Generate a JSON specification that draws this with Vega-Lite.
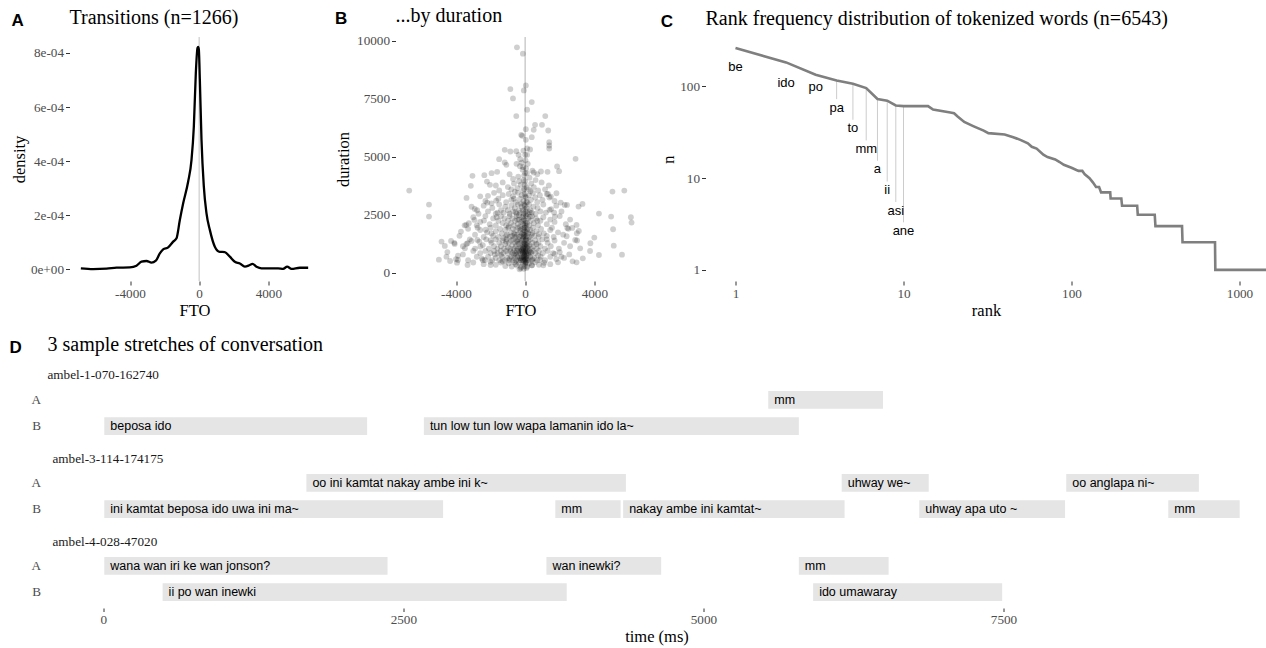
{
  "$schema": "https://vega.github.io/schema/vega-lite/v6.json",
  "padding": {"left": 8.5, "top": 5, "right": 0, "bottom": 0},
  "columns": 1,
  "align": "none",
  "spacing": 15,
  "config": {
    "view": {"stroke": null},
    "font": "Liberation Serif",
    "axis": {
      "labelFont": "Liberation Serif", "labelFontSize": 13.2, "labelColor": "#4d4d4d",
      "titleFont": "Liberation Serif", "titleFontSize": 16.5, "titleFontWeight": "normal", "titleColor": "black",
      "tickColor": "#333333", "tickSize": 4, "tickWidth": 1,
      "domain": false, "grid": false, "labelPadding": 2, "titlePadding": 3
    },
    "title": {
      "anchor": "start", "frame": "group", "font": "Liberation Serif", "fontSize": 20,
      "fontWeight": "normal", "color": "black", "offset": 8
    }
  },
  "datasets": {
    "density": [
      {"fto": -6843, "density": 0.0000037}, {"fto": -6130, "density": 0.0000012}, {"fto": -5359, "density": 0.0000025},
      {"fto": -4780, "density": 0.0000062}, {"fto": -4010, "density": 0.0000074}, {"fto": -3624, "density": 0.0000136},
      {"fto": -3335, "density": 0.0000284}, {"fto": -3046, "density": 0.0000309}, {"fto": -2757, "density": 0.0000247},
      {"fto": -2506, "density": 0.000032}, {"fto": -2275, "density": 0.0000593}, {"fto": -2082, "density": 0.0000741},
      {"fto": -1793, "density": 0.0000815}, {"fto": -1504, "density": 0.0001025}, {"fto": -1311, "density": 0.0001148},
      {"fto": -1118, "density": 0.0001827}, {"fto": -925, "density": 0.0002444}, {"fto": -636, "density": 0.0003247},
      {"fto": -443, "density": 0.0004049}, {"fto": -308, "density": 0.0005284}, {"fto": -193, "density": 0.000726},
      {"fto": -96, "density": 0.000819}, {"fto": -58, "density": 0.000822}, {"fto": -19, "density": 0.000812},
      {"fto": 39, "density": 0.000701}, {"fto": 135, "density": 0.000479}, {"fto": 270, "density": 0.000306},
      {"fto": 424, "density": 0.000207}, {"fto": 617, "density": 0.000146}, {"fto": 906, "density": 0.000084},
      {"fto": 1195, "density": 0.000065}, {"fto": 1484, "density": 0.000064}, {"fto": 1773, "density": 0.000047},
      {"fto": 2063, "density": 0.000028}, {"fto": 2352, "density": 0.000022}, {"fto": 2641, "density": 0.00001},
      {"fto": 2930, "density": 0.000016}, {"fto": 3084, "density": 0.00002}, {"fto": 3316, "density": 0.00001},
      {"fto": 3605, "density": 0.000004}, {"fto": 4087, "density": 0.000004}, {"fto": 4569, "density": 0.000004},
      {"fto": 4858, "density": 0.000002}, {"fto": 5089, "density": 0.00001}, {"fto": 5340, "density": 0.000002},
      {"fto": 5822, "density": 0.000006}, {"fto": 6304, "density": 0.000006}
    ],
    "transitions": [
      {"fto": -476, "dur": 9714}, {"fto": -133, "dur": 9441}, {"fto": 38, "dur": 8076}, {"fto": -857, "dur": 7918},
      {"fto": -76, "dur": 7861}, {"fto": -705, "dur": 7515}, {"fto": 381, "dur": 7357}, {"fto": 114, "dur": 7027},
      {"fto": -514, "dur": 6754}, {"fto": 1162, "dur": 6754}, {"fto": 572, "dur": 6380}, {"fto": 972, "dur": 6380},
      {"fto": 38, "dur": 6193}, {"fto": 495, "dur": 6165}, {"fto": 1334, "dur": 6136}, {"fto": -229, "dur": 5949},
      {"fto": -171, "dur": 5906}, {"fto": 381, "dur": 5849}, {"fto": 38, "dur": 5734}, {"fto": 1391, "dur": 5633},
      {"fto": 1391, "dur": 5489}, {"fto": 1391, "dur": 5360}, {"fto": 114, "dur": 5360}, {"fto": -1181, "dur": 5303},
      {"fto": -857, "dur": 5231}, {"fto": -514, "dur": 5245}, {"fto": -100, "dur": 5270}, {"fto": 286, "dur": 5317},
      {"fto": -381, "dur": 5087}, {"fto": 0, "dur": 5087}, {"fto": 114, "dur": 5087}, {"fto": 2915, "dur": 4915},
      {"fto": -1505, "dur": 4900}, {"fto": -1181, "dur": 4756}, {"fto": -1086, "dur": 4656}, {"fto": -286, "dur": 4900},
      {"fto": -114, "dur": 4555}, {"fto": 0, "dur": 4300}, {"fto": 1848, "dur": 4584}, {"fto": 1962, "dur": 4383},
      {"fto": 1295, "dur": 4354}, {"fto": 914, "dur": 4368}, {"fto": 495, "dur": 4325}, {"fto": -1619, "dur": 4354},
      {"fto": -1943, "dur": 4297}, {"fto": -2362, "dur": 4210}, {"fto": -3048, "dur": 4182}, {"fto": -2210, "dur": 3937},
      {"fto": -2038, "dur": 3794}, {"fto": -1696, "dur": 3765}, {"fto": -3143, "dur": 3751}, {"fto": -6706, "dur": 3549},
      {"fto": 5048, "dur": 3506}, {"fto": 5734, "dur": 3549}, {"fto": 1372, "dur": 3765}, {"fto": 1810, "dur": 3434},
      {"fto": 1320, "dur": 3400}, {"fto": 1486, "dur": 3291}, {"fto": -2153, "dur": 3320}, {"fto": -3391, "dur": 3233},
      {"fto": -1677, "dur": 3118}, {"fto": -2191, "dur": 3032}, {"fto": -5563, "dur": 2946}, {"fto": -5563, "dur": 2429},
      {"fto": -2915, "dur": 2759}, {"fto": -2781, "dur": 2702}, {"fto": 2057, "dur": 3032}, {"fto": 2286, "dur": 2932},
      {"fto": 2419, "dur": 2932}, {"fto": 3086, "dur": 2860}, {"fto": 3315, "dur": 2975}, {"fto": 4267, "dur": 2558},
      {"fto": 4972, "dur": 2429}, {"fto": 6115, "dur": 2400}, {"fto": 6153, "dur": 2170}, {"fto": 5086, "dur": 1882},
      {"fto": 1410, "dur": 2716}, {"fto": 1676, "dur": 2601}, {"fto": 1714, "dur": 2430}, {"fto": -3258, "dur": 2141},
      {"fto": -3410, "dur": 2069}, {"fto": -3715, "dur": 1782}, {"fto": -2934, "dur": 2285}, {"fto": 2438, "dur": 1940},
      {"fto": 2724, "dur": 1940}, {"fto": 2972, "dur": 2069}, {"fto": 2991, "dur": 1710}, {"fto": 3105, "dur": 1811},
      {"fto": 4000, "dur": 1523}, {"fto": 3772, "dur": 1279}, {"fto": 3753, "dur": 948}, {"fto": 4267, "dur": 776},
      {"fto": 5124, "dur": 1178}, {"fto": 5600, "dur": 790}, {"fto": 2895, "dur": 1423}, {"fto": 3181, "dur": 1063},
      {"fto": 2743, "dur": 503}, {"fto": 2972, "dur": 460}, {"fto": 3334, "dur": 632}, {"fto": -4838, "dur": 1351},
      {"fto": -4648, "dur": 1164}, {"fto": -4286, "dur": 1380}, {"fto": -4077, "dur": 1250}, {"fto": -4991, "dur": 575},
      {"fto": -4553, "dur": 704}, {"fto": -4343, "dur": 517}, {"fto": -3886, "dur": 747}, {"fto": -3886, "dur": 560},
      {"fto": -3943, "dur": 445}, {"fto": -3334, "dur": 345}, {"fto": -3486, "dur": 1063}, {"fto": -3330, "dur": 1280},
      {"fto": -3105, "dur": 1380}, {"fto": -2762, "dur": 1423}, {"fto": -2591, "dur": 1135}, {"fto": -2381, "dur": 2256},
      {"fto": -2286, "dur": 1860}, {"fto": -2324, "dur": 560}, {"fto": -2000, "dur": 345}, {"fto": -324, "dur": 158},
      {"fto": 400, "dur": 331}, {"fto": 1048, "dur": 331}, {"fto": 857, "dur": 560}, {"fto": 1714, "dur": 819},
      {"fto": 2095, "dur": 704},
      {"fto": -300, "dur": 4600}, {"fto": -150, "dur": 4450}, {"fto": 50, "dur": 4500}, {"fto": 100, "dur": 4300},
      {"fto": -60, "dur": 4200}, {"fto": -400, "dur": 4150}, {"fto": 250, "dur": 4100}, {"fto": -700, "dur": 4050},
      {"fto": 600, "dur": 4000}, {"fto": -900, "dur": 4250}, {"fto": 420, "dur": 4400}, {"fto": -200, "dur": 4750},
      {"fto": 20, "dur": 4850}, {"fto": 150, "dur": 4700}, {"fto": -500, "dur": 4700}, {"fto": 700, "dur": 4250},
      {"fto": -1300, "dur": 3900}, {"fto": -1000, "dur": 3700}, {"fto": -800, "dur": 3600}, {"fto": -650, "dur": 3850},
      {"fto": -450, "dur": 3650}, {"fto": -250, "dur": 3800}, {"fto": -120, "dur": 3550}, {"fto": 0, "dur": 3950},
      {"fto": 80, "dur": 3700}, {"fto": 200, "dur": 3600}, {"fto": 350, "dur": 3850}, {"fto": 500, "dur": 3700},
      {"fto": 750, "dur": 3550}, {"fto": 950, "dur": 3900}, {"fto": 1150, "dur": 3600}, {"fto": -1500, "dur": 3550},
      {"fto": -600, "dur": 3500}, {"fto": 300, "dur": 3520}, {"fto": -50, "dur": 3620}, {"fto": -350, "dur": 3950},
      {"fto": -1800, "dur": 3450}, {"fto": -1550, "dur": 3200}, {"fto": -1300, "dur": 3350}, {"fto": -1100, "dur": 3050},
      {"fto": -950, "dur": 3400}, {"fto": -800, "dur": 3150}, {"fto": -700, "dur": 3300}, {"fto": -550, "dur": 3050},
      {"fto": -420, "dur": 3450}, {"fto": -300, "dur": 3200}, {"fto": -200, "dur": 3350}, {"fto": -100, "dur": 3100},
      {"fto": -30, "dur": 3400}, {"fto": 40, "dur": 3250}, {"fto": 120, "dur": 3050}, {"fto": 220, "dur": 3350},
      {"fto": 330, "dur": 3150}, {"fto": 450, "dur": 3450}, {"fto": 580, "dur": 3250}, {"fto": 700, "dur": 3050},
      {"fto": 850, "dur": 3350}, {"fto": 1000, "dur": 3150}, {"fto": 1250, "dur": 3400}, {"fto": 1400, "dur": 3250},
      {"fto": -2300, "dur": 3100}, {"fto": -2600, "dur": 3300}, {"fto": -1950, "dur": 3000}, {"fto": 1700, "dur": 3100},
      {"fto": -650, "dur": 3200}, {"fto": 60, "dur": 3050},
      {"fto": -2400, "dur": 2900}, {"fto": -2150, "dur": 2650}, {"fto": -1900, "dur": 2800}, {"fto": -1700, "dur": 2550},
      {"fto": -1500, "dur": 2950}, {"fto": -1400, "dur": 2700}, {"fto": -1250, "dur": 2600}, {"fto": -1150, "dur": 2850},
      {"fto": -1000, "dur": 2700}, {"fto": -900, "dur": 2550}, {"fto": -800, "dur": 2900}, {"fto": -700, "dur": 2650},
      {"fto": -600, "dur": 2800}, {"fto": -500, "dur": 2550}, {"fto": -420, "dur": 2950}, {"fto": -350, "dur": 2700},
      {"fto": -280, "dur": 2600}, {"fto": -200, "dur": 2850}, {"fto": -140, "dur": 2700}, {"fto": -80, "dur": 2550},
      {"fto": -20, "dur": 2900}, {"fto": 30, "dur": 2650}, {"fto": 90, "dur": 2800}, {"fto": 150, "dur": 2550},
      {"fto": 220, "dur": 2950}, {"fto": 300, "dur": 2700}, {"fto": 380, "dur": 2600}, {"fto": 480, "dur": 2850},
      {"fto": 600, "dur": 2550}, {"fto": 720, "dur": 2800}, {"fto": 880, "dur": 2650}, {"fto": 1050, "dur": 2950},
      {"fto": 1200, "dur": 2600}, {"fto": 1500, "dur": 2750}, {"fto": 1800, "dur": 2900}, {"fto": 2100, "dur": 2650},
      {"fto": -2700, "dur": 2550}, {"fto": -3100, "dur": 2850}, {"fto": -1600, "dur": 2600}, {"fto": -550, "dur": 2620},
      {"fto": -250, "dur": 2980}, {"fto": 40, "dur": 2520}, {"fto": 260, "dur": 2620},
      {"fto": -3000, "dur": 2400}, {"fto": -2600, "dur": 2200}, {"fto": -2300, "dur": 2450}, {"fto": -2050, "dur": 2100},
      {"fto": -1850, "dur": 2350}, {"fto": -1700, "dur": 2050}, {"fto": -1550, "dur": 2250}, {"fto": -1400, "dur": 2450},
      {"fto": -1300, "dur": 2150}, {"fto": -1200, "dur": 2350}, {"fto": -1100, "dur": 2050}, {"fto": -1000, "dur": 2250},
      {"fto": -900, "dur": 2450}, {"fto": -820, "dur": 2150}, {"fto": -740, "dur": 2350}, {"fto": -660, "dur": 2050},
      {"fto": -580, "dur": 2250}, {"fto": -500, "dur": 2450}, {"fto": -430, "dur": 2100}, {"fto": -360, "dur": 2300},
      {"fto": -300, "dur": 2000}, {"fto": -240, "dur": 2200}, {"fto": -180, "dur": 2400}, {"fto": -120, "dur": 2100},
      {"fto": -70, "dur": 2300}, {"fto": -20, "dur": 2050}, {"fto": 20, "dur": 2250}, {"fto": 60, "dur": 2450},
      {"fto": 110, "dur": 2150}, {"fto": 170, "dur": 2350}, {"fto": 240, "dur": 2050}, {"fto": 320, "dur": 2250},
      {"fto": 400, "dur": 2450}, {"fto": 500, "dur": 2150}, {"fto": 620, "dur": 2350}, {"fto": 740, "dur": 2050},
      {"fto": 880, "dur": 2250}, {"fto": 1050, "dur": 2400}, {"fto": 1250, "dur": 2100}, {"fto": 1450, "dur": 2300},
      {"fto": 1700, "dur": 2200}, {"fto": 2000, "dur": 2450}, {"fto": 2350, "dur": 2100}, {"fto": 2600, "dur": 2300},
      {"fto": -3500, "dur": 2050}, {"fto": -2800, "dur": 2050}, {"fto": -1650, "dur": 2400}, {"fto": -950, "dur": 2000},
      {"fto": -450, "dur": 2300}, {"fto": -150, "dur": 2250}, {"fto": 80, "dur": 2050}, {"fto": 280, "dur": 2420},
      {"fto": 700, "dur": 2250}, {"fto": -350, "dur": 2480},
      {"fto": -3300, "dur": 1900}, {"fto": -2900, "dur": 1650}, {"fto": -2600, "dur": 1850}, {"fto": -2400, "dur": 1550},
      {"fto": -2200, "dur": 1750}, {"fto": -2000, "dur": 1950}, {"fto": -1850, "dur": 1600}, {"fto": -1700, "dur": 1800},
      {"fto": -1550, "dur": 1550}, {"fto": -1450, "dur": 1900}, {"fto": -1350, "dur": 1700}, {"fto": -1250, "dur": 1500},
      {"fto": -1150, "dur": 1850}, {"fto": -1050, "dur": 1650}, {"fto": -980, "dur": 1950}, {"fto": -900, "dur": 1550},
      {"fto": -830, "dur": 1750}, {"fto": -760, "dur": 1600}, {"fto": -700, "dur": 1900}, {"fto": -640, "dur": 1700},
      {"fto": -580, "dur": 1550}, {"fto": -520, "dur": 1850}, {"fto": -460, "dur": 1650}, {"fto": -400, "dur": 1950},
      {"fto": -350, "dur": 1550}, {"fto": -300, "dur": 1750}, {"fto": -250, "dur": 1600}, {"fto": -200, "dur": 1900},
      {"fto": -160, "dur": 1700}, {"fto": -120, "dur": 1550}, {"fto": -80, "dur": 1850}, {"fto": -40, "dur": 1650},
      {"fto": -10, "dur": 1950}, {"fto": 20, "dur": 1550}, {"fto": 50, "dur": 1750}, {"fto": 90, "dur": 1600},
      {"fto": 130, "dur": 1900}, {"fto": 180, "dur": 1700}, {"fto": 240, "dur": 1550}, {"fto": 300, "dur": 1850},
      {"fto": 370, "dur": 1650}, {"fto": 450, "dur": 1950}, {"fto": 540, "dur": 1600}, {"fto": 650, "dur": 1800},
      {"fto": 780, "dur": 1550}, {"fto": 920, "dur": 1900}, {"fto": 1080, "dur": 1700}, {"fto": 1250, "dur": 1600},
      {"fto": 1450, "dur": 1850}, {"fto": 1650, "dur": 1550}, {"fto": 1900, "dur": 1750}, {"fto": 2200, "dur": 1650},
      {"fto": 2500, "dur": 1900}, {"fto": -3800, "dur": 1600}, {"fto": -2750, "dur": 1950}, {"fto": -1950, "dur": 1700},
      {"fto": -1100, "dur": 1600}, {"fto": -600, "dur": 1650}, {"fto": -280, "dur": 1850}, {"fto": -60, "dur": 1580},
      {"fto": 110, "dur": 1820}, {"fto": 420, "dur": 1720}, {"fto": 800, "dur": 1680}, {"fto": 1550, "dur": 1950},
      {"fto": 2400, "dur": 1580},
      {"fto": -4100, "dur": 1300}, {"fto": -3600, "dur": 1150}, {"fto": -3200, "dur": 1450}, {"fto": -2900, "dur": 1050},
      {"fto": -2650, "dur": 1350}, {"fto": -2450, "dur": 1200}, {"fto": -2250, "dur": 1450}, {"fto": -2100, "dur": 1050},
      {"fto": -1950, "dur": 1300}, {"fto": -1800, "dur": 1150}, {"fto": -1700, "dur": 1450}, {"fto": -1600, "dur": 1050},
      {"fto": -1500, "dur": 1300}, {"fto": -1400, "dur": 1150}, {"fto": -1300, "dur": 1400}, {"fto": -1220, "dur": 1050},
      {"fto": -1150, "dur": 1250}, {"fto": -1080, "dur": 1450}, {"fto": -1000, "dur": 1100}, {"fto": -930, "dur": 1300},
      {"fto": -870, "dur": 1050}, {"fto": -810, "dur": 1400}, {"fto": -750, "dur": 1200}, {"fto": -690, "dur": 1450},
      {"fto": -640, "dur": 1050}, {"fto": -590, "dur": 1300}, {"fto": -540, "dur": 1150}, {"fto": -490, "dur": 1400},
      {"fto": -440, "dur": 1050}, {"fto": -400, "dur": 1250}, {"fto": -360, "dur": 1450}, {"fto": -320, "dur": 1100},
      {"fto": -280, "dur": 1300}, {"fto": -240, "dur": 1050}, {"fto": -200, "dur": 1400}, {"fto": -170, "dur": 1200},
      {"fto": -140, "dur": 1450}, {"fto": -110, "dur": 1050}, {"fto": -80, "dur": 1300}, {"fto": -50, "dur": 1150},
      {"fto": -25, "dur": 1400}, {"fto": 0, "dur": 1050}, {"fto": 25, "dur": 1250}, {"fto": 55, "dur": 1450},
      {"fto": 85, "dur": 1100}, {"fto": 120, "dur": 1300}, {"fto": 160, "dur": 1050}, {"fto": 200, "dur": 1400},
      {"fto": 250, "dur": 1200}, {"fto": 300, "dur": 1450}, {"fto": 360, "dur": 1050}, {"fto": 430, "dur": 1300},
      {"fto": 500, "dur": 1150}, {"fto": 580, "dur": 1400}, {"fto": 670, "dur": 1050}, {"fto": 770, "dur": 1300},
      {"fto": 880, "dur": 1150}, {"fto": 1000, "dur": 1450}, {"fto": 1150, "dur": 1050}, {"fto": 1300, "dur": 1300},
      {"fto": 1480, "dur": 1150}, {"fto": 1700, "dur": 1400}, {"fto": 1950, "dur": 1050}, {"fto": 2250, "dur": 1300},
      {"fto": 2600, "dur": 1150}, {"fto": 3000, "dur": 1400}, {"fto": -2000, "dur": 1400}, {"fto": -1100, "dur": 1350},
      {"fto": -450, "dur": 1350}, {"fto": -130, "dur": 1100}, {"fto": 180, "dur": 1150}, {"fto": 650, "dur": 1250},
      {"fto": 1250, "dur": 1450}, {"fto": -3400, "dur": 1250},
      {"fto": -4500, "dur": 900}, {"fto": -4000, "dur": 600}, {"fto": -3600, "dur": 800}, {"fto": -3300, "dur": 550},
      {"fto": -3000, "dur": 950}, {"fto": -2800, "dur": 700}, {"fto": -2600, "dur": 850}, {"fto": -2450, "dur": 550},
      {"fto": -2300, "dur": 950}, {"fto": -2150, "dur": 700}, {"fto": -2000, "dur": 850}, {"fto": -1900, "dur": 550},
      {"fto": -1800, "dur": 950}, {"fto": -1700, "dur": 650}, {"fto": -1600, "dur": 850}, {"fto": -1500, "dur": 550},
      {"fto": -1420, "dur": 950}, {"fto": -1340, "dur": 700}, {"fto": -1260, "dur": 850}, {"fto": -1180, "dur": 550},
      {"fto": -1110, "dur": 950}, {"fto": -1040, "dur": 650}, {"fto": -980, "dur": 850}, {"fto": -920, "dur": 550},
      {"fto": -860, "dur": 950}, {"fto": -800, "dur": 700}, {"fto": -750, "dur": 850}, {"fto": -700, "dur": 550},
      {"fto": -650, "dur": 950}, {"fto": -600, "dur": 650}, {"fto": -560, "dur": 850}, {"fto": -520, "dur": 550},
      {"fto": -480, "dur": 950}, {"fto": -440, "dur": 700}, {"fto": -400, "dur": 850}, {"fto": -360, "dur": 550},
      {"fto": -330, "dur": 950}, {"fto": -300, "dur": 650}, {"fto": -270, "dur": 850}, {"fto": -240, "dur": 550},
      {"fto": -210, "dur": 950}, {"fto": -180, "dur": 700}, {"fto": -150, "dur": 850}, {"fto": -120, "dur": 550},
      {"fto": -95, "dur": 950}, {"fto": -70, "dur": 650}, {"fto": -45, "dur": 850}, {"fto": -20, "dur": 550},
      {"fto": 5, "dur": 950}, {"fto": 30, "dur": 700}, {"fto": 55, "dur": 850}, {"fto": 80, "dur": 550},
      {"fto": 110, "dur": 950}, {"fto": 140, "dur": 650}, {"fto": 175, "dur": 850}, {"fto": 210, "dur": 550},
      {"fto": 250, "dur": 950}, {"fto": 290, "dur": 700}, {"fto": 340, "dur": 850}, {"fto": 390, "dur": 550},
      {"fto": 450, "dur": 950}, {"fto": 520, "dur": 650}, {"fto": 600, "dur": 850}, {"fto": 690, "dur": 550},
      {"fto": 790, "dur": 950}, {"fto": 900, "dur": 700}, {"fto": 1020, "dur": 850}, {"fto": 1150, "dur": 550},
      {"fto": 1300, "dur": 950}, {"fto": 1450, "dur": 700}, {"fto": 1620, "dur": 850}, {"fto": 1800, "dur": 600},
      {"fto": 2000, "dur": 900}, {"fto": 2250, "dur": 650}, {"fto": 2550, "dur": 800}, {"fto": -1400, "dur": 780},
      {"fto": -900, "dur": 620}, {"fto": -500, "dur": 780}, {"fto": -250, "dur": 620}, {"fto": -60, "dur": 760},
      {"fto": 60, "dur": 620}, {"fto": 200, "dur": 780}, {"fto": 430, "dur": 600}, {"fto": 750, "dur": 760},
      {"fto": -1750, "dur": 800}, {"fto": -2500, "dur": 620}, {"fto": 320, "dur": 900}, {"fto": -650, "dur": 780},
      {"fto": -3000, "dur": 450}, {"fto": -2400, "dur": 380}, {"fto": -2000, "dur": 480}, {"fto": -1700, "dur": 350},
      {"fto": -1400, "dur": 450}, {"fto": -1150, "dur": 300}, {"fto": -950, "dur": 420}, {"fto": -780, "dur": 280},
      {"fto": -620, "dur": 460}, {"fto": -480, "dur": 320}, {"fto": -350, "dur": 440}, {"fto": -230, "dur": 260},
      {"fto": -130, "dur": 400}, {"fto": -40, "dur": 300}, {"fto": 40, "dur": 460}, {"fto": 120, "dur": 280},
      {"fto": 230, "dur": 420}, {"fto": 380, "dur": 330}, {"fto": 560, "dur": 460}, {"fto": 800, "dur": 350},
      {"fto": 1100, "dur": 440}, {"fto": 1450, "dur": 380}, {"fto": 1900, "dur": 460}, {"fto": -260, "dur": 200},
      {"fto": -80, "dur": 180}, {"fto": 80, "dur": 220}, {"fto": -550, "dur": 380}, {"fto": -1300, "dur": 500},
      {"fto": 0, "dur": 400},
      {"fto": -90, "dur": 4000}, {"fto": -30, "dur": 3800}, {"fto": 10, "dur": 3300}, {"fto": -70, "dur": 2950},
      {"fto": -10, "dur": 2750}, {"fto": -110, "dur": 2450}, {"fto": 15, "dur": 2150}, {"fto": -50, "dur": 1950},
      {"fto": -5, "dur": 1800}, {"fto": -100, "dur": 1650}, {"fto": 35, "dur": 1400}, {"fto": -60, "dur": 1250},
      {"fto": -15, "dur": 1200}, {"fto": 10, "dur": 900}, {"fto": -35, "dur": 800}, {"fto": -85, "dur": 700},
      {"fto": 40, "dur": 1000}, {"fto": -140, "dur": 900}, {"fto": -170, "dur": 1000}, {"fto": 70, "dur": 750},
      {"fto": -200, "dur": 650}, {"fto": 100, "dur": 1200}, {"fto": -10, "dur": 600}, {"fto": -60, "dur": 500},
      {"fto": 20, "dur": 450}
    ],
    "rankfreq": [
      {"rank": 1, "n": 262}, {"rank": 2, "n": 183}, {"rank": 3, "n": 134}, {"rank": 4, "n": 116}, {"rank": 5, "n": 107},
      {"rank": 6, "n": 96}, {"rank": 7, "n": 73}, {"rank": 8, "n": 70}, {"rank": 9, "n": 62}, {"rank": 10, "n": 61},
      {"rank": 14, "n": 61}, {"rank": 15, "n": 56}, {"rank": 19, "n": 52}, {"rank": 20, "n": 51}, {"rank": 21, "n": 47},
      {"rank": 23, "n": 41}, {"rank": 26, "n": 37}, {"rank": 30, "n": 33}, {"rank": 32, "n": 31}, {"rank": 40, "n": 30},
      {"rank": 45, "n": 28}, {"rank": 50, "n": 26}, {"rank": 55, "n": 24}, {"rank": 58, "n": 22}, {"rank": 62, "n": 21},
      {"rank": 68, "n": 18}, {"rank": 72, "n": 17}, {"rank": 80, "n": 16}, {"rank": 85, "n": 15}, {"rank": 90, "n": 14},
      {"rank": 100, "n": 13}, {"rank": 110, "n": 12}, {"rank": 116, "n": 12}, {"rank": 120, "n": 11}, {"rank": 128, "n": 10},
      {"rank": 134, "n": 9}, {"rank": 140, "n": 8}, {"rank": 146, "n": 8}, {"rank": 150, "n": 7}, {"rank": 170, "n": 7},
      {"rank": 171, "n": 6}, {"rank": 198, "n": 6}, {"rank": 200, "n": 5}, {"rank": 246, "n": 5}, {"rank": 248, "n": 4},
      {"rank": 313, "n": 4}, {"rank": 316, "n": 3}, {"rank": 455, "n": 3}, {"rank": 458, "n": 2}, {"rank": 715, "n": 2},
      {"rank": 718, "n": 1}, {"rank": 1440, "n": 1}
    ],
    "topwords": [
      {"rank": 1, "word": "be", "n": 262, "label_n": 161},
      {"rank": 2, "word": "ido", "n": 183, "label_n": 109},
      {"rank": 3, "word": "po", "n": 134, "label_n": 97.5},
      {"rank": 4, "word": "pa", "n": 116, "label_n": 58, "seg_end": 72.8},
      {"rank": 5, "word": "to", "n": 107, "label_n": 35, "seg_end": 43.3},
      {"rank": 6, "word": "mm", "n": 96, "label_n": 20.9, "seg_end": 25.8},
      {"rank": 7, "word": "a", "n": 73, "label_n": 12.5, "seg_end": 15.5},
      {"rank": 8, "word": "ii", "n": 70, "label_n": 7.5, "seg_end": 9.2},
      {"rank": 9, "word": "asi", "n": 62, "label_n": 4.4, "seg_end": 5.5},
      {"rank": 10, "word": "ane", "n": 61, "label_n": 2.66, "seg_end": 3.3}
    ],
    "turns": [
      {"conv": "ambel-1-070-162740", "speaker": "A", "start": 5540, "end": 6496, "utt": "mm"},
      {"conv": "ambel-1-070-162740", "speaker": "B", "start": 8, "end": 2198, "utt": "beposa ido"},
      {"conv": "ambel-1-070-162740", "speaker": "B", "start": 2671, "end": 5795, "utt": "tun low tun low wapa lamanin ido la~"},
      {"conv": "ambel-3-114-174175", "speaker": "A", "start": 1692, "end": 4354, "utt": "oo ini kamtat nakay ambe ini k~"},
      {"conv": "ambel-3-114-174175", "speaker": "A", "start": 6152, "end": 6877, "utt": "uhway we~"},
      {"conv": "ambel-3-114-174175", "speaker": "A", "start": 8023, "end": 9128, "utt": "oo anglapa ni~"},
      {"conv": "ambel-3-114-174175", "speaker": "B", "start": 8, "end": 2831, "utt": "ini kamtat beposa ido uwa ini ma~"},
      {"conv": "ambel-3-114-174175", "speaker": "B", "start": 3766, "end": 4310, "utt": "mm"},
      {"conv": "ambel-3-114-174175", "speaker": "B", "start": 4331, "end": 6176, "utt": "nakay ambe ini kamtat~"},
      {"conv": "ambel-3-114-174175", "speaker": "B", "start": 6798, "end": 8013, "utt": "uhway apa uto ~"},
      {"conv": "ambel-3-114-174175", "speaker": "B", "start": 8873, "end": 9468, "utt": "mm"},
      {"conv": "ambel-4-028-47020", "speaker": "A", "start": 8, "end": 2368, "utt": "wana wan iri ke wan jonson?"},
      {"conv": "ambel-4-028-47020", "speaker": "A", "start": 3692, "end": 4648, "utt": "wan inewki?"},
      {"conv": "ambel-4-028-47020", "speaker": "A", "start": 5795, "end": 6543, "utt": "mm"},
      {"conv": "ambel-4-028-47020", "speaker": "B", "start": 494, "end": 3861, "utt": "ii po wan inewki"},
      {"conv": "ambel-4-028-47020", "speaker": "B", "start": 5914, "end": 7489, "utt": "ido umawaray"}
    ]
  },
  "concat": [
    {
      "spacing": 15,
      "hconcat": [
        {
          "title": {"text": "A", "font": "Liberation Sans", "fontSize": 17, "fontWeight": "bold", "frame": "bounds", "offset": -22},
          "vconcat": [
            {
              "width": 250,
              "height": 244,
              "title": "Transitions (n=1266)",
              "layer": [
                {
                  "data": {"values": [{}]},
                  "mark": {"type": "rule", "color": "#cccccc", "strokeWidth": 1.2},
                  "encoding": {"x": {"datum": 0, "type": "quantitative"}}
                },
                {
                  "data": {"name": "density"},
                  "mark": {"type": "line", "color": "black", "strokeWidth": 2.3, "interpolate": "monotone"},
                  "encoding": {
                    "x": {
                      "field": "fto", "type": "quantitative",
                      "scale": {"domain": [-7500, 6960], "nice": false, "zero": false},
                      "axis": {"values": [-4000, 0, 4000], "labelExpr": "datum.value + ''", "title": "FTO"}
                    },
                    "y": {
                      "field": "density", "type": "quantitative",
                      "scale": {"domain": [-0.000043, 0.000859], "nice": false, "zero": false},
                      "axis": {
                        "values": [0, 0.0002, 0.0004, 0.0006, 0.0008],
                        "labelExpr": "datum.value == 0 ? '0e+00' : format(datum.value * 10000, 'd') + 'e-04'",
                        "title": "density"
                      }
                    }
                  }
                }
              ]
            }
          ]
        },
        {
          "title": {"text": "B", "font": "Liberation Sans", "fontSize": 17, "fontWeight": "bold", "frame": "bounds", "offset": -22},
          "vconcat": [
            {
              "width": 250,
              "height": 244,
              "title": "...by duration",
              "layer": [
                {
                  "data": {"values": [{}]},
                  "mark": {"type": "rule", "color": "#cccccc", "strokeWidth": 1.5},
                  "encoding": {"x": {"datum": 0, "type": "quantitative"}}
                },
                {
                  "data": {"name": "transitions"},
                  "mark": {"type": "circle", "size": 34, "color": "black", "opacity": 0.19},
                  "encoding": {
                    "x": {
                      "field": "fto", "type": "quantitative",
                      "scale": {"domain": [-7500, 6960], "nice": false, "zero": false},
                      "axis": {"values": [-4000, 0, 4000], "labelExpr": "datum.value + ''", "title": "FTO"}
                    },
                    "y": {
                      "field": "dur", "type": "quantitative",
                      "scale": {"domain": [-345, 10160], "nice": false, "zero": false},
                      "axis": {"values": [0, 2500, 5000, 7500, 10000], "labelExpr": "datum.value + ''", "title": "duration", "titlePadding": 5.5}
                    }
                  }
                }
              ]
            }
          ]
        },
        {
          "title": {"text": "C", "font": "Liberation Sans", "fontSize": 17, "fontWeight": "bold", "frame": "bounds", "offset": -22},
          "vconcat": [
            {
              "width": 561,
              "height": 244,
              "title": "Rank frequency distribution of tokenized words (n=6543)",
              "layer": [
                {
                  "data": {"name": "topwords"},
                  "transform": [{"filter": "isValid(datum.seg_end)"}],
                  "mark": {"type": "rule", "color": "#cccccc", "strokeWidth": 1},
                  "encoding": {
                    "x": {"field": "rank", "type": "quantitative"},
                    "y": {"field": "n", "type": "quantitative"},
                    "y2": {"field": "seg_end"}
                  }
                },
                {
                  "data": {"name": "rankfreq"},
                  "mark": {"type": "line", "color": "#7f7f7f", "strokeWidth": 2.6, "clip": true},
                  "encoding": {
                    "x": {
                      "field": "rank", "type": "quantitative",
                      "scale": {"type": "log", "domain": [0.663, 1448], "nice": false},
                      "axis": {"values": [1, 10, 100, 1000], "labelExpr": "datum.value + ''", "title": "rank"}
                    },
                    "y": {
                      "field": "n", "type": "quantitative",
                      "scale": {"type": "log", "domain": [0.757, 346], "nice": false},
                      "axis": {"values": [1, 10, 100], "labelExpr": "datum.value + ''", "title": "n", "titlePadding": 3}
                    }
                  }
                },
                {
                  "data": {"name": "topwords"},
                  "mark": {"type": "text", "font": "Liberation Sans", "fontSize": 13, "color": "black"},
                  "encoding": {
                    "x": {"field": "rank", "type": "quantitative"},
                    "y": {"field": "label_n", "type": "quantitative"},
                    "text": {"field": "word"}
                  }
                }
              ]
            }
          ]
        }
      ]
    },
    {
      "title": {"text": "D", "font": "Liberation Sans", "fontSize": 17, "fontWeight": "bold", "frame": "bounds", "offset": -22, "dx": -21.5},
      "spacing": 9,
      "vconcat": [
        {
          "width": 1196,
          "height": 58,
          "data": {"name": "turns"},
          "transform": [{"filter": "datum.conv == 'ambel-1-070-162740'"}],
          "title": {
            "text": "3 sample stretches of conversation", "subtitle": "ambel-1-070-162740",
            "subtitleFont": "Liberation Serif", "subtitleFontSize": 13.2, "subtitleColor": "#1a1a1a",
            "subtitlePadding": 14, "dx": -22, "offset": 3
          },
          "layer": [
            {
              "mark": {"type": "bar", "color": "#e5e5e5"},
              "encoding": {
                "x": {"field": "start", "type": "quantitative", "scale": {"domain": [-465, 9683], "range": [-22, 1196], "nice": false, "zero": false}, "axis": null},
                "x2": {"field": "end"},
                "y": {
                  "field": "speaker", "type": "nominal",
                  "scale": {"domain": ["A", "B"], "paddingInner": 0.327, "paddingOuter": 0.26},
                  "axis": {"title": null, "ticks": false, "labelPadding": 7, "offset": 22}
                }
              }
            },
            {
              "mark": {"type": "text", "align": "left", "dx": 6, "font": "Liberation Sans", "fontSize": 12.5, "color": "black"},
              "encoding": {
                "x": {"field": "start", "type": "quantitative"},
                "y": {"field": "speaker", "type": "nominal"},
                "text": {"field": "utt"}
              }
            }
          ]
        },
        {
          "width": 1196,
          "height": 58,
          "data": {"name": "turns"},
          "transform": [{"filter": "datum.conv == 'ambel-3-114-174175'"}],
          "title": {"text": "ambel-3-114-174175", "fontSize": 13.2, "color": "#1a1a1a", "dx": -17, "offset": 1},
          "layer": [
            {
              "mark": {"type": "bar", "color": "#e5e5e5"},
              "encoding": {
                "x": {"field": "start", "type": "quantitative", "scale": {"domain": [-465, 9683], "range": [-22, 1196], "nice": false, "zero": false}, "axis": null},
                "x2": {"field": "end"},
                "y": {
                  "field": "speaker", "type": "nominal",
                  "scale": {"domain": ["A", "B"], "paddingInner": 0.327, "paddingOuter": 0.26},
                  "axis": {"title": null, "ticks": false, "labelPadding": 7, "offset": 22}
                }
              }
            },
            {
              "mark": {"type": "text", "align": "left", "dx": 6, "font": "Liberation Sans", "fontSize": 12.5, "color": "black"},
              "encoding": {
                "x": {"field": "start", "type": "quantitative"},
                "y": {"field": "speaker", "type": "nominal"},
                "text": {"field": "utt"}
              }
            }
          ]
        },
        {
          "width": 1196,
          "height": 58,
          "data": {"name": "turns"},
          "transform": [{"filter": "datum.conv == 'ambel-4-028-47020'"}],
          "title": {"text": "ambel-4-028-47020", "fontSize": 13.2, "color": "#1a1a1a", "dx": -17, "offset": 1},
          "layer": [
            {
              "mark": {"type": "bar", "color": "#e5e5e5"},
              "encoding": {
                "x": {
                  "field": "start", "type": "quantitative",
                  "scale": {"domain": [-465, 9683], "range": [-22, 1196], "nice": false, "zero": false},
                  "axis": {"values": [0, 2500, 5000, 7500], "labelExpr": "datum.value + ''", "title": "time (ms)", "tickSize": 3.5}
                },
                "x2": {"field": "end"},
                "y": {
                  "field": "speaker", "type": "nominal",
                  "scale": {"domain": ["A", "B"], "paddingInner": 0.327, "paddingOuter": 0.26},
                  "axis": {"title": null, "ticks": false, "labelPadding": 7, "offset": 22}
                }
              }
            },
            {
              "mark": {"type": "text", "align": "left", "dx": 6, "font": "Liberation Sans", "fontSize": 12.5, "color": "black"},
              "encoding": {
                "x": {"field": "start", "type": "quantitative"},
                "y": {"field": "speaker", "type": "nominal"},
                "text": {"field": "utt"}
              }
            }
          ]
        }
      ]
    }
  ]
}
